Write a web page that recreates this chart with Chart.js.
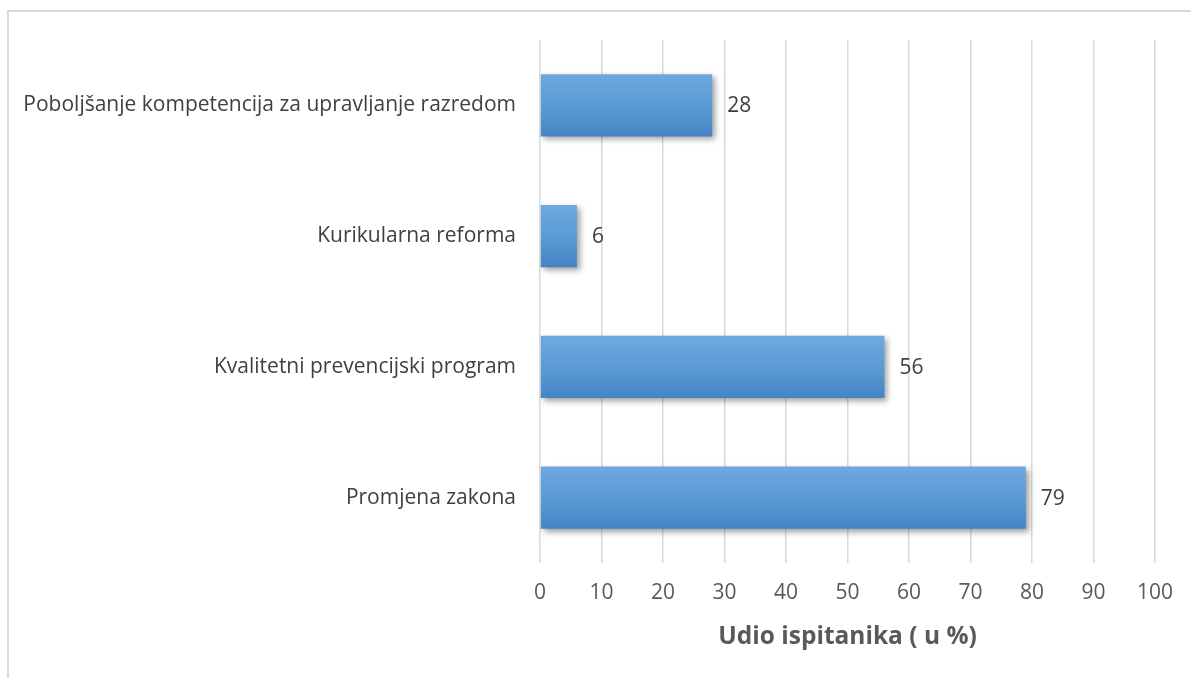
<!DOCTYPE html>
<html>
<head>
<meta charset="utf-8">
<script src="https://cdn.jsdelivr.net/npm/chart.js@4"></script>
<style>
  html, body { margin: 0; padding: 0; background: #fff; }
  #wrap { position: relative; width: 1191px; height: 678px; overflow: hidden; }
  #frame {
    position: absolute; left: 7px; top: 10px; width: 1300px; height: 700px;
    border-left: 2px solid #d9d9d9; border-top: 2px solid #d9d9d9;
  }
  #chart { position: absolute; left: 0; top: 0; }
</style>
</head>
<body>
<div id="wrap">
  <div id="frame"></div>
  <canvas id="chart" width="1191" height="678"></canvas>
</div>
<script>
const categories = [
  "Poboljšanje kompetencija za upravljanje razredom",
  "Kurikularna reforma",
  "Kvalitetni prevencijski program",
  "Promjena zakona"
];
const shares = [28, 6, 56, 79];
const xTicks = [0, 10, 20, 30, 40, 50, 60, 70, 80, 90, 100];

const fontFamily = "'Open Sans', 'Liberation Sans', sans-serif";

// vertical gradient per bar, plus a soft drop shadow
const barStyle = {
  id: "barStyle",
  beforeDatasetsDraw(chart) {
    const ctx = chart.ctx;
    chart.getDatasetMeta(0).data.forEach(bar => {
      const top = bar.y - bar.height / 2;
      const g = ctx.createLinearGradient(0, top, 0, top + bar.height);
      g.addColorStop(0, "#6fa8de");
      g.addColorStop(0.5, "#5b9bd5");
      g.addColorStop(1, "#4584c4");
      bar.options = Object.assign({}, bar.options, { backgroundColor: g });
    });
    ctx.save();
    ctx.shadowColor = "rgba(0,0,0,0.38)";
    ctx.shadowBlur = 6;
    ctx.shadowOffsetX = 3;
    ctx.shadowOffsetY = 3;
  },
  afterDatasetsDraw(chart) {
    const ctx = chart.ctx;
    ctx.restore();
    // value labels at the bar ends
    ctx.save();
    ctx.font = "21px " + fontFamily;
    ctx.fillStyle = "#404040";
    ctx.textBaseline = "middle";
    ctx.textAlign = "left";
    chart.getDatasetMeta(0).data.forEach((bar, i) => {
      ctx.fillText(String(shares[i]), bar.x + 15, bar.y + 1);
    });
    ctx.restore();
  }
};

new Chart(document.getElementById("chart"), {
  type: "bar",
  data: {
    labels: categories,
    datasets: [{
      data: shares,
      backgroundColor: "#5b9bd5",
      borderWidth: 0,
      categoryPercentage: 1,
      barPercentage: 0.475
    }]
  },
  options: {
    indexAxis: "y",
    responsive: false,
    animation: false,
    layout: { padding: { left: 0, right: 36, top: 40, bottom: 0 } },
    plugins: { legend: { display: false }, tooltip: { enabled: false } },
    scales: {
      x: {
        min: 0,
        max: 100,
        afterBuildTicks: scale => { scale.ticks = xTicks.map(v => ({ value: v })); },
        afterFit: scale => { scale.height = 115; },
        grid: { color: "#d9d9d9", lineWidth: 1.5, drawTicks: false },
        border: { display: false },
        ticks: {
          padding: 17,
          color: "#595959",
          font: { family: fontFamily, size: 21 }
        },
        title: {
          display: true,
          text: "Udio ispitanika ( u %)",
          color: "#595959",
          font: { family: fontFamily, size: 24.5, weight: "bold" },
          padding: { top: 10, bottom: 26 }
        }
      },
      y: {
        afterFit: scale => { scale.width = 540; },
        grid: { display: false, drawTicks: false },
        border: { display: false },
        ticks: {
          padding: 24,
          color: "#404040",
          font: { family: fontFamily, size: 21 }
        }
      }
    }
  },
  plugins: [barStyle]
});
</script>
</body>
</html>
